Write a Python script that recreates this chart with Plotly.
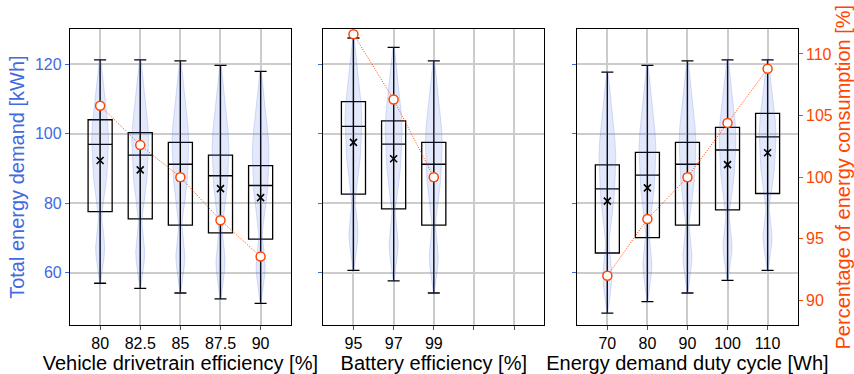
import numpy as np
import plotly.graph_objects as go

# ---------------- data ----------------
drive_labels = ["80", "82.5", "85", "87.5", "90"]
drive_min = [57.0, 55.5, 54.2, 52.5, 51.2]
drive_q1 = [77.6, 75.5, 73.7, 71.5, 69.7]
drive_med = [96.9, 93.8, 91.2, 87.9, 85.1]
drive_q3 = [104.0, 100.3, 97.5, 93.8, 90.8]
drive_max = [121.2, 121.2, 120.9, 119.6, 117.9]
drive_mean = [92.3, 89.6, 87.4, 84.2, 81.6]
drive_pct = [105.8, 102.6, 100.0, 96.5, 93.55]

batt_labels = ["95", "97", "99", "", ""]
batt_min = [60.7, 57.7, 54.2]
batt_q1 = [82.6, 78.4, 73.7]
batt_med = [102.1, 97.0, 91.2]
batt_q3 = [109.2, 103.7, 97.5]
batt_max = [127.5, 124.8, 120.9]
batt_mean = [97.5, 92.8, 87.4]
batt_pct = [111.6, 106.3, 100.0]

duty_labels = ["70", "80", "90", "100", "110"]
duty_min = [48.4, 51.7, 54.2, 57.8, 60.7]
duty_q1 = [65.7, 70.1, 73.7, 78.1, 82.8]
duty_med = [84.1, 88.1, 91.2, 95.3, 99.1]
duty_q3 = [91.0, 94.6, 97.5, 101.8, 105.8]
duty_max = [117.7, 119.6, 120.9, 121.2, 121.2]
duty_mean = [80.6, 84.4, 87.4, 91.1, 94.5]
duty_pct = [92.0, 96.6, 100.0, 104.4, 108.8]

# violin outline: relative height (0 = min, 1 = max)
# and relative half-width
violin_t = [0.0, 0.03, 0.07, 0.12, 0.16, 0.21, 0.26, 0.29, 0.33, 0.40,
            0.48, 0.57, 0.65, 0.72, 0.77, 0.83, 0.87, 0.93, 1.0]
violin_w = [0.05, 0.18, 0.30, 0.48, 0.54, 0.45, 0.28, 0.20, 0.28, 0.54,
            0.80, 0.93, 1.00, 0.90, 0.73, 0.58, 0.46, 0.30, 0.08]

# ---------------- style ----------------
BLUE = "royalblue"
ORANGE = "orangered"
FONT = "Liberation Sans, Arial, sans-serif"
GRID = "#cccccc"
VIOLIN_HALF = 0.21
BOX_W = 0.6
TICK_SIZE = 16
TITLE_SIZE = 20

xdomains = [[0.082, 0.3404], [0.3786, 0.6373], [0.676, 0.934]]
ydomain = [0.131, 0.9217]

fig = go.Figure()

panels = [
    (drive_labels, drive_min, drive_q1, drive_med, drive_q3, drive_max, drive_mean, drive_pct,
     "Vehicle drivetrain efficiency [%]"),
    (batt_labels, batt_min, batt_q1, batt_med, batt_q3, batt_max, batt_mean, batt_pct,
     "Battery efficiency [%]"),
    (duty_labels, duty_min, duty_q1, duty_med, duty_q3, duty_max, duty_mean, duty_pct,
     "Energy demand duty cycle [Wh]"),
]

vt = np.array(violin_t)
vw = np.array(violin_w)

for i, (labels, vmin, q1, med, q3, vmax, mean, pct, xtitle) in enumerate(panels):
    xa = "x" if i == 0 else f"x{i+1}"
    ya = "y" if i == 0 else f"y{i+1}"
    ya2 = f"y{i+4}"
    n = len(vmin)
    pos = list(range(1, n + 1))

    # violins
    for p, lo, hi in zip(pos, vmin, vmax):
        ys = lo + vt * (hi - lo)
        xs_r = p + vw * VIOLIN_HALF
        xs_l = p - vw * VIOLIN_HALF
        fig.add_trace(go.Scatter(
            x=np.concatenate([xs_r, xs_l[::-1]]),
            y=np.concatenate([ys, ys[::-1]]),
            fill="toself", fillcolor="rgba(65,105,225,0.15)",
            line=dict(color="rgba(65,105,225,0.25)", width=0.8),
            mode="lines", hoverinfo="skip", showlegend=False,
            xaxis=xa, yaxis=ya))

    # boxes with whiskers and caps
    fig.add_trace(go.Box(
        x=pos, q1=q1, median=med, q3=q3, lowerfence=vmin, upperfence=vmax,
        width=BOX_W, whiskerwidth=0.5, fillcolor="rgba(0,0,0,0)",
        line=dict(color="black", width=1.3), boxpoints=False,
        showlegend=False, xaxis=xa, yaxis=ya))

    # center line through the box (violin extrema bar)
    cx, cy = [], []
    for p, lo, hi in zip(pos, q1, q3):
        cx += [p, p, None]
        cy += [lo, hi, None]
    fig.add_trace(go.Scatter(x=cx, y=cy, mode="lines",
                             line=dict(color="black", width=1.3),
                             hoverinfo="skip", showlegend=False,
                             xaxis=xa, yaxis=ya))

    # means
    fig.add_trace(go.Scatter(x=pos, y=mean, mode="markers",
                             marker=dict(symbol="x-thin", size=7,
                                         line=dict(color="black", width=1.6)),
                             showlegend=False, xaxis=xa, yaxis=ya))

    # percentage line (secondary axis)
    fig.add_trace(go.Scatter(x=pos, y=pct, mode="lines+markers",
                             line=dict(color=ORANGE, width=1, dash="1px,1.5px"),
                             marker=dict(symbol="circle", size=9, color="white",
                                         line=dict(color=ORANGE, width=1.5)),
                             showlegend=False, xaxis=xa, yaxis=ya2))

    xkey = "xaxis" if i == 0 else f"xaxis{i+1}"
    fig.layout[xkey] = dict(
        domain=xdomains[i], anchor=ya, range=[0.25, 5.75],
        tickmode="array", tickvals=[1, 2, 3, 4, 5], ticktext=labels,
        showgrid=True, gridcolor=GRID, gridwidth=1.6,
        showline=True, linecolor="black", linewidth=1.3, mirror=True,
        ticks="outside", ticklen=4, tickcolor="#555555",
        tickfont=dict(family=FONT, size=TICK_SIZE, color="black"),
        title=dict(text=xtitle, font=dict(family=FONT, size=TITLE_SIZE, color="black"),
                   standoff=3),
        zeroline=False)

    ykey = "yaxis" if i == 0 else f"yaxis{i+1}"
    yd = dict(
        domain=ydomain, anchor=xa, range=[45, 130],
        tickmode="array", tickvals=[60, 80, 100, 120],
        showgrid=True, gridcolor=GRID, gridwidth=1.6,
        showline=True, linecolor="black", linewidth=1.3, mirror=True,
        ticks="outside", ticklen=4, tickcolor=BLUE,
        tickfont=dict(family=FONT, size=TICK_SIZE, color=BLUE),
        zeroline=False)
    if i == 0:
        yd["title"] = dict(text="Total energy demand [kWh]",
                           font=dict(family=FONT, size=TITLE_SIZE, color=BLUE), standoff=4)
    else:
        yd["showticklabels"] = False
        yd["matches"] = "y"
    fig.layout[ykey] = yd

    y2key = f"yaxis{i+4}"
    y2d = dict(overlaying=ya, anchor=xa, range=[88, 112], showgrid=False,
               zeroline=False, side="right")
    if i == 2:
        y2d.update(
            tickmode="array", tickvals=[90, 95, 100, 105, 110],
            ticks="outside", ticklen=4, tickcolor=ORANGE,
            tickfont=dict(family=FONT, size=TICK_SIZE, color=ORANGE),
            showline=True, linecolor="black", linewidth=1.3,
            title=dict(text="Percentage of energy consumption [%]",
                       font=dict(family=FONT, size=TITLE_SIZE, color=ORANGE), standoff=6))
    else:
        y2d["visible"] = False
    fig.layout[y2key] = y2d

fig.update_layout(
    width=854, height=374,
    margin=dict(l=0, r=0, t=0, b=0),
    paper_bgcolor="white", plot_bgcolor="white",
    showlegend=False, boxmode="overlay",
    font=dict(family=FONT),
)

fig.write_html("out.html")
